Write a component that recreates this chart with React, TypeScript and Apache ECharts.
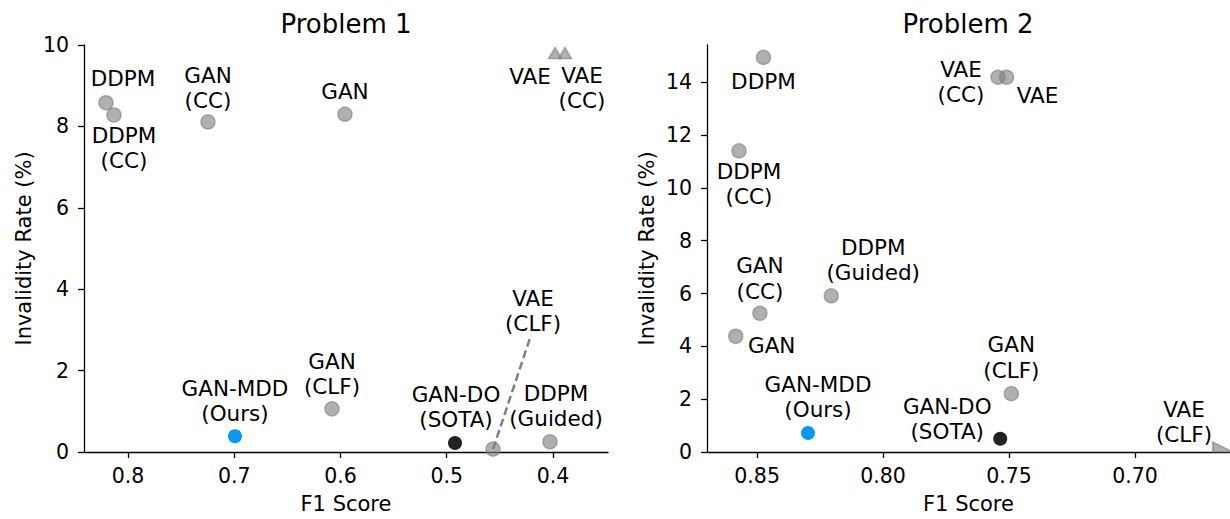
import React, { useEffect, useRef } from 'react';
import * as echarts from 'echarts';

// ---------- Data ----------
// Problem 1
const P1_MODELS = ['DDPM', 'DDPM (CC)', 'GAN (CC)', 'GAN', 'GAN-MDD (Ours)', 'GAN (CLF)', 'GAN-DO (SOTA)', 'VAE (CLF)', 'DDPM (Guided)'];
const P1_F1 = [0.8207, 0.8132, 0.7247, 0.5958, 0.6993, 0.608, 0.4922, 0.4564, 0.4028];
const P1_INVALIDITY = [8.58, 8.28, 8.11, 8.3, 0.39, 1.06, 0.22, 0.07, 0.25];
// off-scale markers (drawn as triangles at the top edge)
const P1_OFF_MODELS = ['VAE', 'VAE (CC)'];
const P1_OFF_F1 = [0.398, 0.3887];
const P1_OFF_INVALIDITY = [9.8, 9.8];
// leader line from VAE (CLF) point to its label
const P1_LEADER_F1 = [0.4564, 0.4207];
const P1_LEADER_INVALIDITY = [0.07, 2.87];
const P1_X_TICKS = [0.4, 0.5, 0.6, 0.7, 0.8];
const P1_Y_TICKS = [0, 2, 4, 6, 8, 10];

// Problem 2
const P2_MODELS = ['DDPM', 'VAE (CC)', 'VAE', 'DDPM (CC)', 'DDPM (Guided)', 'GAN (CC)', 'GAN', 'GAN-MDD (Ours)', 'GAN-DO (SOTA)', 'GAN (CLF)'];
const P2_F1 = [0.8475, 0.7544, 0.751, 0.8572, 0.8206, 0.8489, 0.8585, 0.8298, 0.7535, 0.7491];
const P2_INVALIDITY = [14.94, 14.19, 14.19, 11.4, 5.91, 5.25, 4.38, 0.72, 0.5, 2.21];
const P2_OFF_MODELS = ['VAE (CLF)'];
const P2_OFF_F1 = [0.6651];
const P2_OFF_INVALIDITY = [0];
const P2_X_TICKS = [0.7, 0.75, 0.8, 0.85];
const P2_Y_TICKS = [0, 2, 4, 6, 8, 10, 12, 14];

// ---------- Layout / style ----------
const FONT = 'DejaVu Sans';
const LABEL_OFFSETS_1: Record<string, [number, number]> = {
  'DDPM': [17, -24],
  'DDPM (CC)': [10, 33],
  'GAN (CC)': [0, -34],
  'GAN': [0, -23],
  'GAN-MDD (Ours)': [0, -35],
  'GAN (CLF)': [0, -35],
  'GAN-DO (SOTA)': [1, -36],
  'VAE (CLF)': [40, -138],
  'DDPM (Guided)': [6, -36],
  'VAE': [-25, 23],
  'VAE (CC)': [17, 35],
};
const LABEL_OFFSETS_2: Record<string, [number, number]> = {
  'DDPM': [0, 24],
  'VAE (CC)': [-37, 5],
  'VAE': [31, 18],
  'DDPM (CC)': [10, 33],
  'DDPM (Guided)': [42, -36],
  'GAN (CC)': [0, -35],
  'GAN': [36, 9],
  'GAN-MDD (Ours)': [10, -36],
  'GAN-DO (SOTA)': [-53, -20],
  'GAN (CLF)': [0, -36],
  'VAE (CLF)': [-39, -25],
};

function colorFor(name: string) {
  if (name.includes('Ours')) return { color: '#069AF3', borderWidth: 0, opacity: 1 };
  if (name.includes('SOTA')) return { color: '#222222', borderWidth: 0, opacity: 1 };
  return { color: 'rgba(128,128,128,0.62)', borderColor: 'rgba(128,128,128,0.62)', borderWidth: 1.5, opacity: 1 };
}

function labelText(name: string) {
  return name.replace(' (', '\n(');
}

function makeItems(names: string[], xs: number[], ys: number[], offsets: Record<string, [number, number]>) {
  return names.map((n, i) => ({
    name: n,
    value: [xs[i], ys[i]],
    itemStyle: colorFor(n),
    label: {
      show: true,
      position: 'inside',
      formatter: labelText(n),
      offset: offsets[n] || [0, 0],
      color: '#000',
      fontFamily: FONT,
      fontSize: 21.5,
      lineHeight: 25.5,
      align: 'center',
      verticalAlign: 'middle',
      textBorderWidth: 0,
    },
  }));
}

function xAxisCfg(gridIndex: number, min: number, max: number, ticks: number[], digits: number) {
  return {
    type: 'value',
    gridIndex,
    min,
    max,
    inverse: true,
    name: 'F1 Score',
    nameLocation: 'middle',
    nameGap: 41,
    nameTextStyle: { fontFamily: FONT, fontSize: 21, color: '#000' },
    axisLine: { show: true, onZero: false, lineStyle: { color: '#000', width: 1.3 } },
    axisTick: { show: true, length: 6, lineStyle: { color: '#000', width: 1.3 }, customValues: ticks },
    axisLabel: {
      customValues: ticks,
      formatter: (v: number) => v.toFixed(digits),
      fontFamily: FONT,
      fontSize: 20.5,
      color: '#000',
      margin: 13,
    },
    splitLine: { show: false },
  };
}

function yAxisCfg(gridIndex: number, max: number, ticks: number[]) {
  return {
    type: 'value',
    gridIndex,
    min: 0,
    max,
    name: 'Invalidity Rate (%)',
    nameLocation: 'middle',
    nameGap: 50,
    nameTextStyle: { fontFamily: FONT, fontSize: 21, color: '#000' },
    axisLine: { show: true, onZero: false, lineStyle: { color: '#000', width: 1.3 } },
    axisTick: { show: true, length: 6, lineStyle: { color: '#000', width: 1.3 }, customValues: ticks },
    axisLabel: {
      customValues: ticks,
      formatter: (v: number) => String(v),
      fontFamily: FONT,
      fontSize: 20.5,
      color: '#000',
      margin: 15,
    },
    splitLine: { show: false },
  };
}

export default function App() {
  const ref = useRef<HTMLDivElement>(null);
  useEffect(() => {
    const chart = echarts.init(ref.current!, null, { renderer: 'svg' });
    const option: any = {
      animation: false,
      backgroundColor: '#fff',
      textStyle: { fontFamily: FONT },
      graphic: [
        { type: 'text', x: 346, y: 24, style: { text: 'Problem 1', font: `26px "${FONT}"`, fill: '#000', textAlign: 'center', textVerticalAlign: 'middle' } },
        { type: 'text', x: 968, y: 24, style: { text: 'Problem 2', font: `26px "${FONT}"`, fill: '#000', textAlign: 'center', textVerticalAlign: 'middle' } },
      ],
      grid: [
        { left: 84, top: 45, width: 524, height: 407, containLabel: false },
        { left: 707, top: 45, width: 523, height: 407, containLabel: false },
      ],
      xAxis: [
        xAxisCfg(0, 0.3482, 0.8414, P1_X_TICKS, 1),
        xAxisCfg(1, 0.6623, 0.8699, P2_X_TICKS, 2),
      ],
      yAxis: [
        yAxisCfg(0, 10, P1_Y_TICKS),
        yAxisCfg(1, 15.41, P2_Y_TICKS),
      ],
      series: [
        {
          type: 'line',
          xAxisIndex: 0,
          yAxisIndex: 0,
          data: P1_LEADER_F1.map((x, i) => [x, P1_LEADER_INVALIDITY[i]]),
          symbol: 'none',
          lineStyle: { color: '#808080', width: 2.5, type: [8, 4] },
          z: 1,
          silent: true,
        },
        {
          type: 'scatter',
          xAxisIndex: 0,
          yAxisIndex: 0,
          symbol: 'circle',
          symbolSize: 14,
          data: makeItems(P1_MODELS, P1_F1, P1_INVALIDITY, LABEL_OFFSETS_1),
          z: 3,
          silent: true,
        },
        {
          type: 'scatter',
          xAxisIndex: 0,
          yAxisIndex: 0,
          symbol: 'triangle',
          symbolSize: [13, 11],
          data: makeItems(P1_OFF_MODELS, P1_OFF_F1, P1_OFF_INVALIDITY, LABEL_OFFSETS_1),
          z: 3,
          silent: true,
        },
        {
          type: 'scatter',
          xAxisIndex: 1,
          yAxisIndex: 1,
          symbol: 'circle',
          symbolSize: 14,
          data: makeItems(P2_MODELS, P2_F1, P2_INVALIDITY, LABEL_OFFSETS_2),
          z: 3,
          silent: true,
        },
        {
          type: 'scatter',
          xAxisIndex: 1,
          yAxisIndex: 1,
          symbol: 'path://M0,0 L0,10 L20,10 Z',
          symbolSize: [20, 10],
          symbolOffset: [0, -5],
          clip: false,
          data: makeItems(P2_OFF_MODELS, P2_OFF_F1, P2_OFF_INVALIDITY, LABEL_OFFSETS_2),
          z: 3,
          silent: true,
        },
      ],
    };
    chart.setOption(option);
    return () => chart.dispose();
  }, []);
  return <div ref={ref} style={{ position: 'absolute', left: 0, top: 0, width: 1230, height: 519 }} />;
}
